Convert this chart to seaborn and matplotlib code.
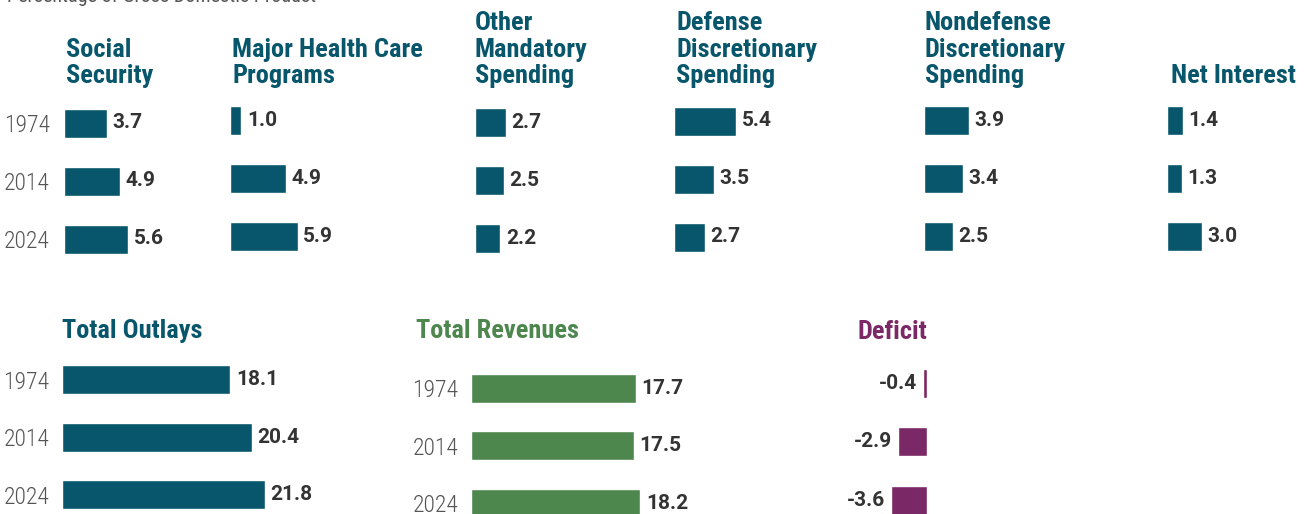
import matplotlib
matplotlib.use("Agg")
import matplotlib.pyplot as plt
import pandas as pd
import seaborn as sns

# -----------------------------------------------------------#
#                          DATA                              #
# -----------------------------------------------------------#

years = ["1974", "2014", "2024"]

social_security = [3.7, 4.9, 5.6]
health_care = [1.0, 4.9, 5.9]
other_mandatory = [2.7, 2.5, 2.2]
defense = [5.4, 3.5, 2.7]
nondefense = [3.9, 3.4, 2.5]
net_interest = [1.4, 1.3, 3.0]

total_outlays = [18.1, 20.4, 21.8]
total_revenues = [17.7, 17.5, 18.2]
deficit = [-0.4, -2.9, -3.6]

top_titles = [
    "Social\nSecurity",
    "Major Health Care\nPrograms",
    "Other\nMandatory\nSpending",
    "Defense\nDiscretionary\nSpending",
    "Nondefense\nDiscretionary\nSpending",
    "Net Interest",
]
top_values = [social_security, health_care, other_mandatory, defense, nondefense, net_interest]

subtitle = "Percentage of Gross Domestic Product"

TEAL = "#08566b"
GREEN = "#4e874e"
PURPLE = "#7b2867"
VALUE_COLOR = "#333333"
YEAR_COLOR = "#555555"

NARROW = ["Roboto Condensed", "Archivo Narrow", "Liberation Sans", "DejaVu Sans"]
VALUE_FONT = ["Roboto", "DejaVu Sans"]

W, H = 1305, 514

sns.set_style("white")
plt.rcParams["font.family"] = NARROW

fig = plt.figure(figsize=(W / 100, H / 100), dpi=100)


def add_ax(left, top, width, height):
    """Axes placed in pixel coordinates measured from the top-left corner."""
    ax = fig.add_axes([left / W, 1 - (top + height) / H, width / W, height / H])
    ax.patch.set_alpha(0)
    return ax


def draw_panel(ax, values, color, xlim, show_years=False, pad=10):
    df = pd.DataFrame({"year": years, "value": values})
    sns.barplot(
        data=df, x="value", y="year", orient="h", color=color,
        saturation=1, width=0.5, ax=ax,
    )
    ax.set_xlim(*xlim)
    ax.set_ylim(2.5, -0.5)
    ax.bar_label(
        ax.containers[0], fmt="%.1f", padding=4, fontsize=15,
        fontweight="bold", color=VALUE_COLOR, family=VALUE_FONT,
    )
    sns.despine(ax=ax, left=True, bottom=True)
    ax.set_xticks([])
    ax.set_xlabel("")
    ax.set_ylabel("")
    ax.tick_params(axis="y", length=0, pad=pad, labelleft=show_years)
    for lab in ax.get_yticklabels():
        lab.set_fontsize(17)
        lab.set_color(YEAR_COLOR)
        lab.set_fontweight("light")


def title(x, y, text, color, ha="left"):
    # y is the baseline of the last line
    fig.text(x / W, 1 - y / H, text, ha=ha, va="baseline", color=color,
             fontsize=19, fontweight="bold", family=NARROW, linespacing=1.12)


# top row: spending components
top_left = [64, 230, 475, 674, 924, 1167]
top_top = [94, 91, 93, 92, 91, 91]
title_x = [66, 232, 475, 676, 925, 1171]
top_scale = 11.5  # pixels per percentage point

for i, (vals, name) in enumerate(zip(top_values, top_titles)):
    ax = add_ax(top_left[i], top_top[i], 150, 174)
    draw_panel(ax, vals, TEAL, (0, 150 / top_scale), show_years=(i == 0), pad=10)
    title(title_x[i], 83, name, TEAL)

# bottom row: totals
ax = add_ax(62, 351, 300, 172.5)
draw_panel(ax, total_outlays, TEAL, (0, 300 / 9.3), show_years=True, pad=9)
title(62, 338, "Total Outlays", TEAL)

ax = add_ax(471, 359.5, 300, 172.5)
draw_panel(ax, total_revenues, GREEN, (0, 300 / 9.3), show_years=True, pad=9)
title(416, 338, "Total Revenues", GREEN)

ax = add_ax(827, 354, 100, 175.5)
draw_panel(ax, deficit, PURPLE, (-10, 0))
title(927, 339, "Deficit", PURPLE, ha="right")

fig.text(7 / W, 1 - 2 / H, subtitle, ha="left", va="baseline",
         color=YEAR_COLOR, fontsize=14.5, family=NARROW)

fig.savefig("out.png", dpi=100)
